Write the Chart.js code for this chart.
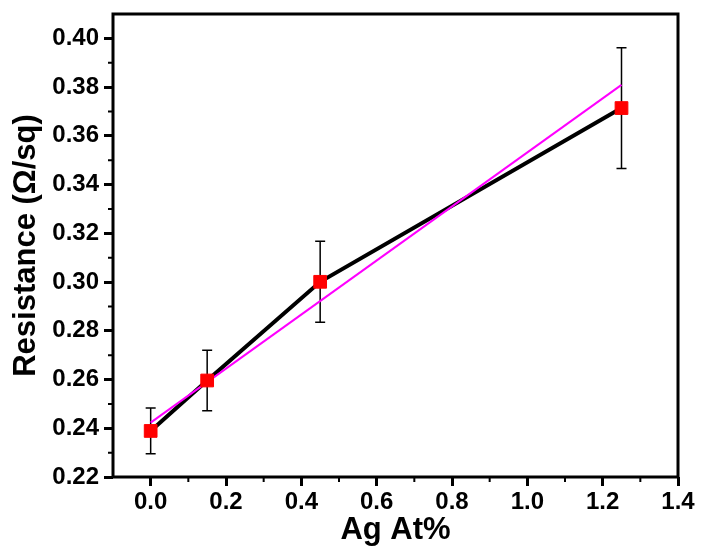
<!DOCTYPE html>
<html>
<head>
<meta charset="utf-8">
<script src="https://cdn.jsdelivr.net/npm/chart.js@4.4.0/dist/chart.umd.min.js"></script>
<style>
html, body { margin: 0; padding: 0; background: #fff; }
#wrap { width: 702px; height: 556px; }
</style>
</head>
<body>
<div id="wrap"><canvas id="c"></canvas></div>
<script>
// values
const agAt = [0, 0.15, 0.45, 1.25];
const resistance = [0.2389, 0.2596, 0.3001, 0.3714];
const resErr = [0.0094, 0.0124, 0.0166, 0.0248];
const fitX = [0, 1.25];
const fitY = [0.2423, 0.3809];

const xTicks = [0, 0.2, 0.4, 0.6, 0.8, 1.0, 1.2, 1.4];
const xMinor = [0.1, 0.3, 0.5, 0.7, 0.9, 1.1, 1.3];
const yTicks = [0.22, 0.24, 0.26, 0.28, 0.30, 0.32, 0.34, 0.36, 0.38, 0.40];
const yMinor = [0.23, 0.25, 0.27, 0.29, 0.31, 0.33, 0.35, 0.37, 0.39];

const FONT = "'Liberation Sans', Arial, sans-serif";

// error bars, frame and minor ticks
const extras = {
  id: 'extras',
  beforeDatasetsDraw(chart) {
    const { ctx, scales: { x, y } } = chart;
    ctx.save();
    ctx.strokeStyle = '#000';
    ctx.lineWidth = 1.5;
    agAt.forEach((v, i) => {
      const px = x.getPixelForValue(v);
      const top = y.getPixelForValue(resistance[i] + resErr[i]);
      const bot = y.getPixelForValue(resistance[i] - resErr[i]);
      ctx.beginPath();
      ctx.moveTo(px, top); ctx.lineTo(px, bot);
      ctx.moveTo(px - 5, top); ctx.lineTo(px + 5, top);
      ctx.moveTo(px - 5, bot); ctx.lineTo(px + 5, bot);
      ctx.stroke();
    });
    ctx.restore();
  },
  afterDraw(chart) {
    const { ctx, chartArea: a, scales: { x, y } } = chart;
    ctx.save();
    ctx.strokeStyle = '#000';
    ctx.lineWidth = 2;
    ctx.beginPath();
    xMinor.forEach(v => {
      const px = x.getPixelForValue(v);
      ctx.moveTo(px, a.bottom); ctx.lineTo(px, a.bottom + 5);
    });
    yMinor.forEach(v => {
      const py = y.getPixelForValue(v);
      ctx.moveTo(a.left, py); ctx.lineTo(a.left - 5, py);
    });
    ctx.stroke();
    ctx.lineWidth = 3;
    ctx.strokeRect(a.left, a.top, a.right - a.left, a.bottom - a.top);
    ctx.restore();
  }
};

new Chart(document.getElementById('c'), {
  type: 'line',
  data: {
    datasets: [
      {
        type: 'scatter',
        data: agAt.map((v, i) => ({ x: v, y: resistance[i] })),
        backgroundColor: '#ff0000',
        borderColor: '#ff0000',
        pointStyle: 'rect',
        pointRadius: 9,
        pointHoverRadius: 9,
        showLine: false,
        order: 0
      },
      {
        data: fitX.map((v, i) => ({ x: v, y: fitY[i] })),
        borderColor: '#ff00ff',
        borderWidth: 2,
        pointRadius: 0,
        order: 1
      },
      {
        data: agAt.map((v, i) => ({ x: v, y: resistance[i] })),
        borderColor: '#000',
        borderWidth: 4,
        pointRadius: 0,
        order: 2
      }
    ]
  },
  options: {
    responsive: true,
    maintainAspectRatio: false,
    animation: false,
    layout: { padding: { left: 0, right: 24, top: 14, bottom: 0 } },
    plugins: { legend: { display: false }, tooltip: { enabled: false } },
    scales: {
      x: {
        type: 'linear',
        min: -0.1,
        max: 1.4,
        afterBuildTicks: s => { s.ticks = xTicks.map(value => ({ value })); },
        afterFit: s => { s.height = 79; s.paddingLeft = 0; s.paddingRight = 0; },
        border: { display: false },
        grid: { drawOnChartArea: false, tickLength: 9, lineWidth: 3, color: '#000' },
        ticks: {
          color: '#000',
          padding: 2,
          maxRotation: 0,
          font: { family: FONT, size: 24, weight: 'bold' },
          callback: v => v.toFixed(1)
        },
        title: {
          display: true,
          text: 'Ag At%',
          color: '#000',
          font: { family: FONT, size: 31, weight: 'bold' },
          padding: { top: 0, bottom: 7 }
        }
      },
      y: {
        min: 0.22,
        max: 0.41,
        afterBuildTicks: s => { s.ticks = yTicks.map(value => ({ value })); },
        afterFit: s => { s.width = 113; s.paddingTop = 0; s.paddingBottom = 0; },
        border: { display: false },
        grid: { drawOnChartArea: false, tickLength: 9, lineWidth: 3, color: '#000' },
        ticks: {
          color: '#000',
          padding: 5,
          font: { family: FONT, size: 24, weight: 'bold' },
          callback: v => v.toFixed(2)
        },
        title: {
          display: true,
          text: 'Resistance (Ω/sq)',
          color: '#000',
          font: { family: FONT, size: 31, weight: 'bold' },
          padding: { top: 8, bottom: 0 }
        }
      }
    }
  },
  plugins: [extras]
});
</script>
</body>
</html>
